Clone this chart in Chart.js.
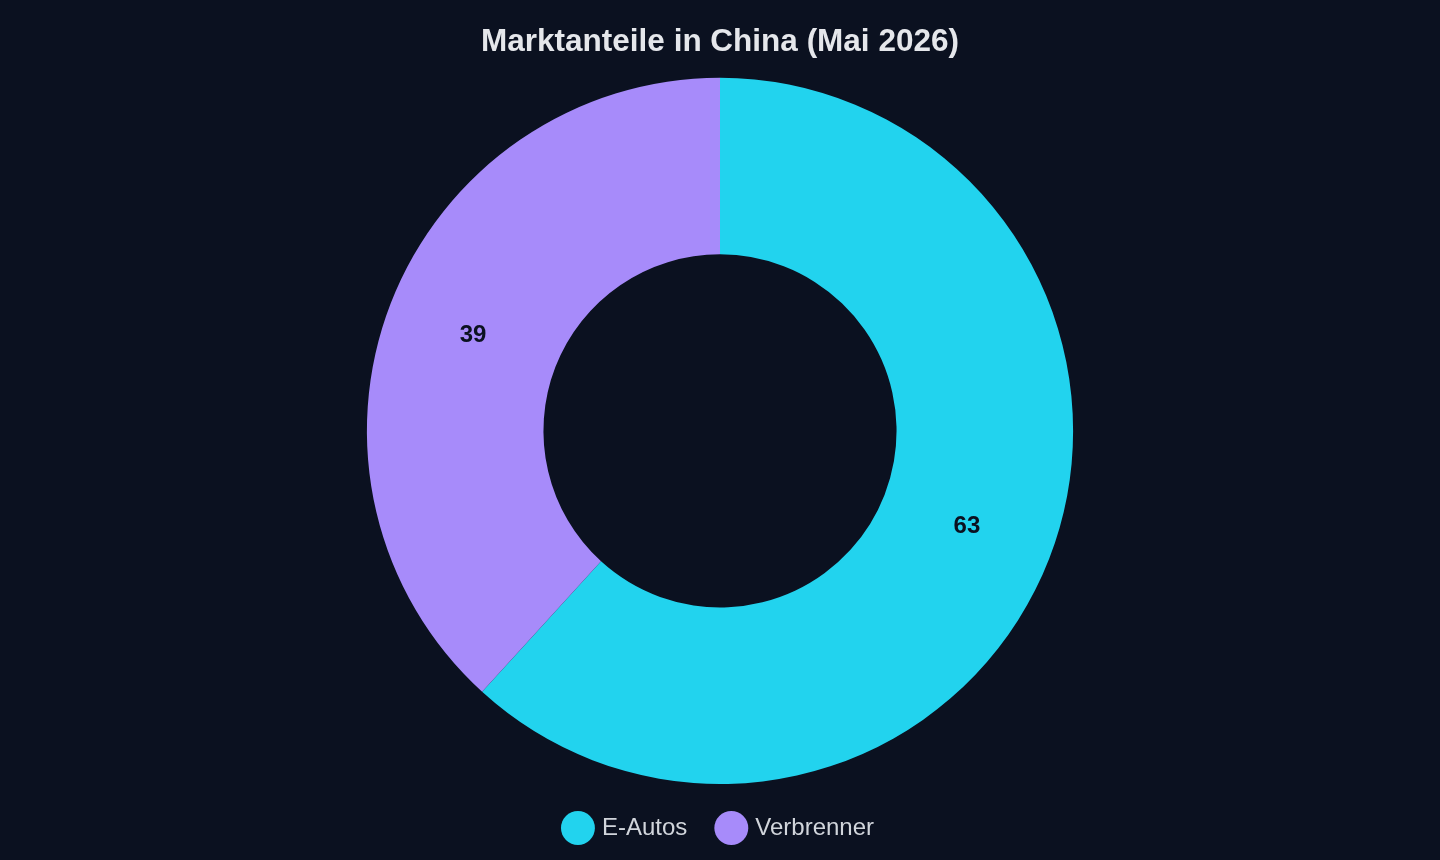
<!DOCTYPE html>
<html>
<head>
<meta charset="utf-8">
<script src="https://cdn.jsdelivr.net/npm/chart.js@4/dist/chart.umd.min.js"></script>
<style>
html,body{margin:0;padding:0;background:#0b1120;}
#wrap{width:1440px;height:860px;position:relative;}
</style>
</head>
<body>
<div id="wrap"><canvas id="c"></canvas></div>
<script>
const categories = ["E-Autos", "Verbrenner"];
const values = [63, 39];
const colors = ["#22d3ee", "#a78bfa"];
const titleText = "Marktanteile in China (Mai 2026)";

const labelPlugin = {
  id: 'sliceLabels',
  afterDatasetsDraw(chart) {
    const ctx = chart.ctx;
    const meta = chart.getDatasetMeta(0);
    ctx.save();
    ctx.font = 'bold 24px "Liberation Sans", Arial, sans-serif';
    ctx.fillStyle = '#0b1120';
    ctx.textAlign = 'center';
    ctx.textBaseline = 'middle';
    meta.data.forEach((el, i) => {
      const p = el.tooltipPosition();
      ctx.fillText(String(chart.data.datasets[0].data[i]), p.x, p.y);
    });
    ctx.restore();
  }
};

new Chart(document.getElementById('c'), {
  type: 'doughnut',
  data: {
    labels: categories,
    datasets: [{
      data: values,
      backgroundColor: colors,
      borderWidth: 0,
      hoverOffset: 0
    }]
  },
  options: {
    responsive: true,
    maintainAspectRatio: false,
    animation: false,
    cutout: '50%',
    layout: { padding: { top: 0, bottom: 10 } },
    plugins: {
      title: {
        display: true,
        text: titleText,
        color: '#e5e7eb',
        font: { family: '"Liberation Sans", Arial, sans-serif', size: 31.5, weight: 'bold' },
        padding: { top: 23, bottom: 17 }
      },
      legend: {
        position: 'bottom',
        labels: {
          usePointStyle: true,
          pointStyle: 'circle',
          color: '#d1d5db',
          font: { family: '"Liberation Sans", Arial, sans-serif', size: 24 },
          padding: 32
        }
      },
      tooltip: { enabled: false }
    }
  },
  plugins: [labelPlugin]
});
</script>
</body>
</html>
